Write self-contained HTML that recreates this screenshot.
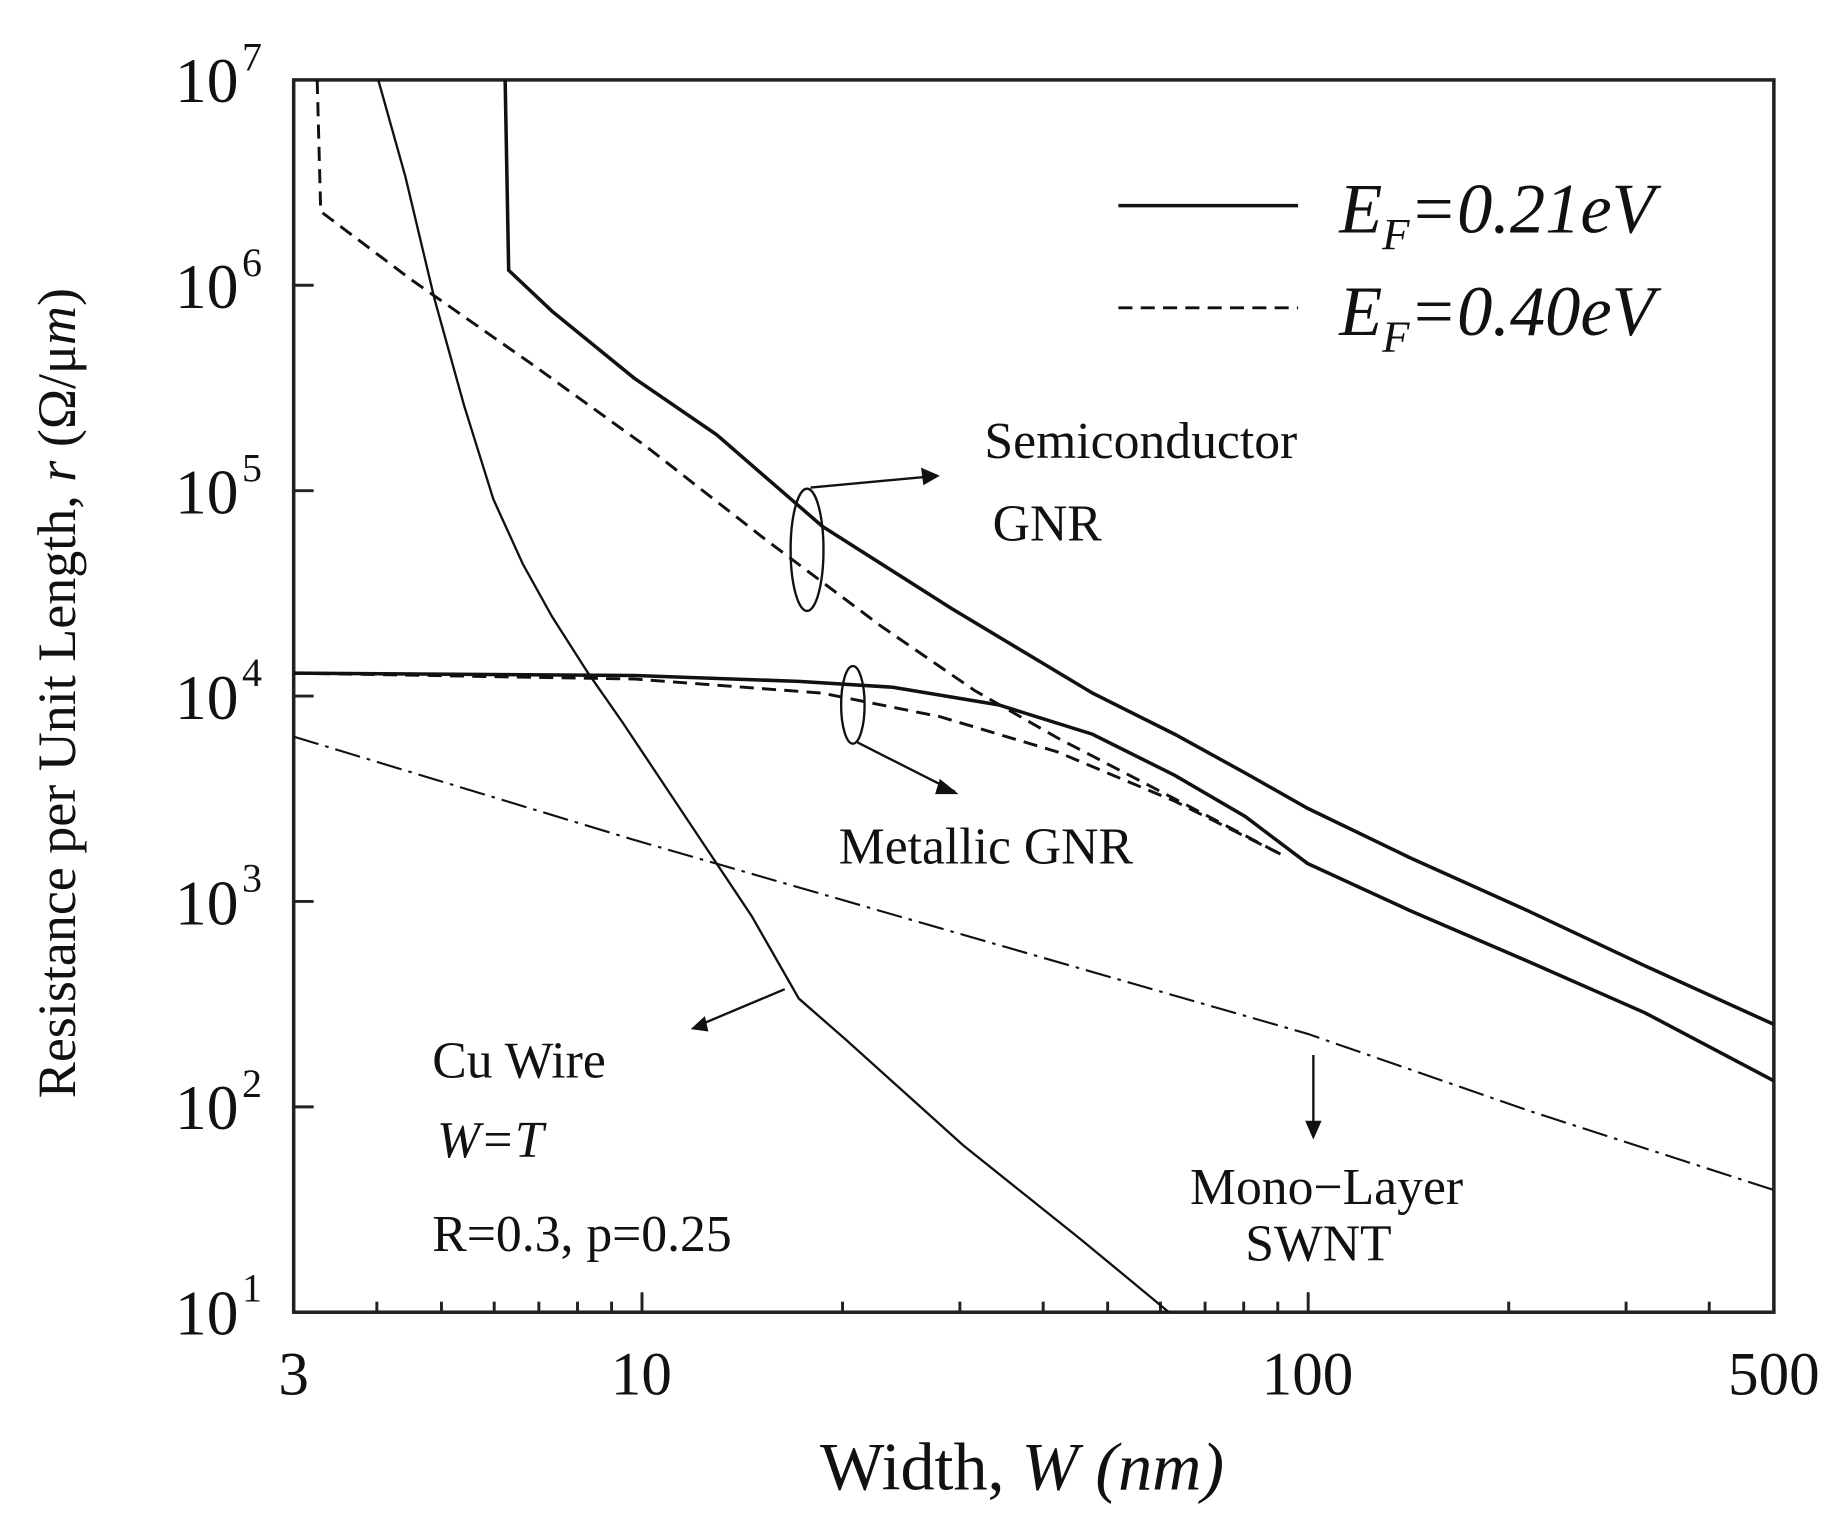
<!DOCTYPE html>
<html><head><meta charset="utf-8"><style>
html,body{margin:0;padding:0;background:#fff;}
svg{display:block;}
text{font-family:"Liberation Serif",serif;fill:#111;}
</style></head><body>
<svg width="1842" height="1519" viewBox="0 0 1568 1293" xmlns="http://www.w3.org/2000/svg">
<rect x="250" y="68" width="1260" height="1049" fill="none" stroke="#222" stroke-width="3"/>
<g stroke="#222" stroke-width="2.5">
<line x1="546.5" y1="1117" x2="546.5" y2="1100"/><line x1="1113.6" y1="1117" x2="1113.6" y2="1100"/>
<line x1="320.8" y1="1117" x2="320.8" y2="1108"/><line x1="375.8" y1="1117" x2="375.8" y2="1108"/>
<line x1="420.7" y1="1117" x2="420.7" y2="1108"/><line x1="458.7" y1="1117" x2="458.7" y2="1108"/>
<line x1="491.6" y1="1117" x2="491.6" y2="1108"/><line x1="520.6" y1="1117" x2="520.6" y2="1108"/>
<line x1="717.2" y1="1117" x2="717.2" y2="1108"/><line x1="817.1" y1="1117" x2="817.1" y2="1108"/>
<line x1="888.0" y1="1117" x2="888.0" y2="1108"/><line x1="942.9" y1="1117" x2="942.9" y2="1108"/>
<line x1="987.8" y1="1117" x2="987.8" y2="1108"/><line x1="1025.8" y1="1117" x2="1025.8" y2="1108"/>
<line x1="1058.7" y1="1117" x2="1058.7" y2="1108"/><line x1="1087.7" y1="1117" x2="1087.7" y2="1108"/>
<line x1="1284.3" y1="1117" x2="1284.3" y2="1108"/><line x1="1384.2" y1="1117" x2="1384.2" y2="1108"/>
<line x1="1455.0" y1="1117" x2="1455.0" y2="1108"/>
<line x1="250" y1="242.8" x2="267" y2="242.8"/><line x1="250" y1="417.7" x2="267" y2="417.7"/>
<line x1="250" y1="592.5" x2="267" y2="592.5"/><line x1="250" y1="767.3" x2="267" y2="767.3"/>
<line x1="250" y1="942.2" x2="267" y2="942.2"/>
</g>
<g fill="none" stroke="#111">
<polyline stroke-width="2" points="322,68 345,150 370,255 395,345 420,425 445,480 470,525 500,572 530,615 560,660 600,720 640,780 680,850 720,885 770,930 820,975 870,1015 920,1055 960,1088 995,1117"/>
<polyline stroke-width="3" points="430,68 433,230 470,265 540,322 610,370 700,448 810,518 930,590 1000,625 1060,658 1113,688 1200,730 1300,775 1400,822 1510,872"/>
<polyline stroke-width="2.5" stroke-dasharray="12,7" points="270,68 273,180 350,238 450,308 550,380 650,458 750,533 830,588 900,628 1000,680 1090,727"/>
<polyline stroke-width="3" points="250,573 540,575 680,580 760,585 850,600 930,625 1000,660 1060,695 1113,735 1200,775 1300,818 1400,862 1510,920"/>
<polyline stroke-width="2.5" stroke-dasharray="12,7" points="250,573 540,578 700,590 800,610 900,640 1000,682 1090,727"/>
<polyline stroke-width="1.8" stroke-dasharray="22,6,3,6" points="250,627 540,715 800,790 1113,880 1300,945 1510,1013"/>
<ellipse cx="687" cy="468" rx="14" ry="52" stroke-width="2"/>
<line x1="690" y1="415" x2="798" y2="405" stroke-width="2"/>
<ellipse cx="726" cy="600" rx="10" ry="33" stroke-width="2"/>
<line x1="730" y1="632" x2="813" y2="674" stroke-width="2"/>
<line x1="668" y1="842" x2="592" y2="874" stroke-width="2"/>
<line x1="1118" y1="898" x2="1118" y2="966" stroke-width="2"/>
<line x1="952" y1="175" x2="1105" y2="175" stroke-width="3"/>
<line x1="952" y1="262" x2="1105" y2="262" stroke-width="2.5" stroke-dasharray="12,7"/>
</g>
<g fill="#111">
<polygon points="800,405 784,398 786,413"/>
<polygon points="816,676 800,663 796,676"/>
<polygon points="588,876 600,865 603,878"/>
<polygon points="1118,970 1111,954 1125,954"/>
</g>
<text x="1140" y="198" font-size="60" font-style="italic">E<tspan font-size="38" dy="14">F</tspan><tspan dy="-14">=0.21eV</tspan></text>
<text x="1140" y="285" font-size="60" font-style="italic">E<tspan font-size="38" dy="14">F</tspan><tspan dy="-14">=0.40eV</tspan></text>
<text x="838" y="390" font-size="44">Semiconductor</text>
<text x="845" y="460" font-size="44">GNR</text>
<text x="714" y="735" font-size="44">Metallic GNR</text>
<text x="368" y="917" font-size="44">Cu Wire</text>
<text x="372" y="985" font-size="44" font-style="italic">W=T</text>
<text x="368" y="1065" font-size="44">R=0.3, p=0.25</text>
<text x="1013" y="1025" font-size="44">Mono−Layer</text>
<text x="1060" y="1073" font-size="44">SWNT</text>
<g font-size="54" text-anchor="end">
<text x="203" y="87">10</text><text x="203" y="262">10</text><text x="203" y="437">10</text>
<text x="203" y="612">10</text><text x="203" y="787">10</text><text x="203" y="961">10</text><text x="203" y="1136">10</text>
</g>
<g font-size="34">
<text x="206" y="60">7</text><text x="206" y="235">6</text><text x="206" y="410">5</text>
<text x="206" y="584">4</text><text x="206" y="759">3</text><text x="206" y="934">2</text><text x="206" y="1108">1</text>
</g>
<g font-size="52" text-anchor="middle">
<text x="250" y="1187">3</text><text x="546" y="1187">10</text><text x="1113" y="1187">100</text><text x="1510" y="1187">500</text>
</g>
<text x="870" y="1268" font-size="58" text-anchor="middle">Width, <tspan font-style="italic">W (nm)</tspan></text>
<text transform="translate(64,590) rotate(-90)" font-size="46" text-anchor="middle">Resistance per Unit Length, <tspan font-style="italic">r</tspan> (Ω/μ<tspan font-style="italic">m</tspan>)</text>
</svg>
</body></html>
